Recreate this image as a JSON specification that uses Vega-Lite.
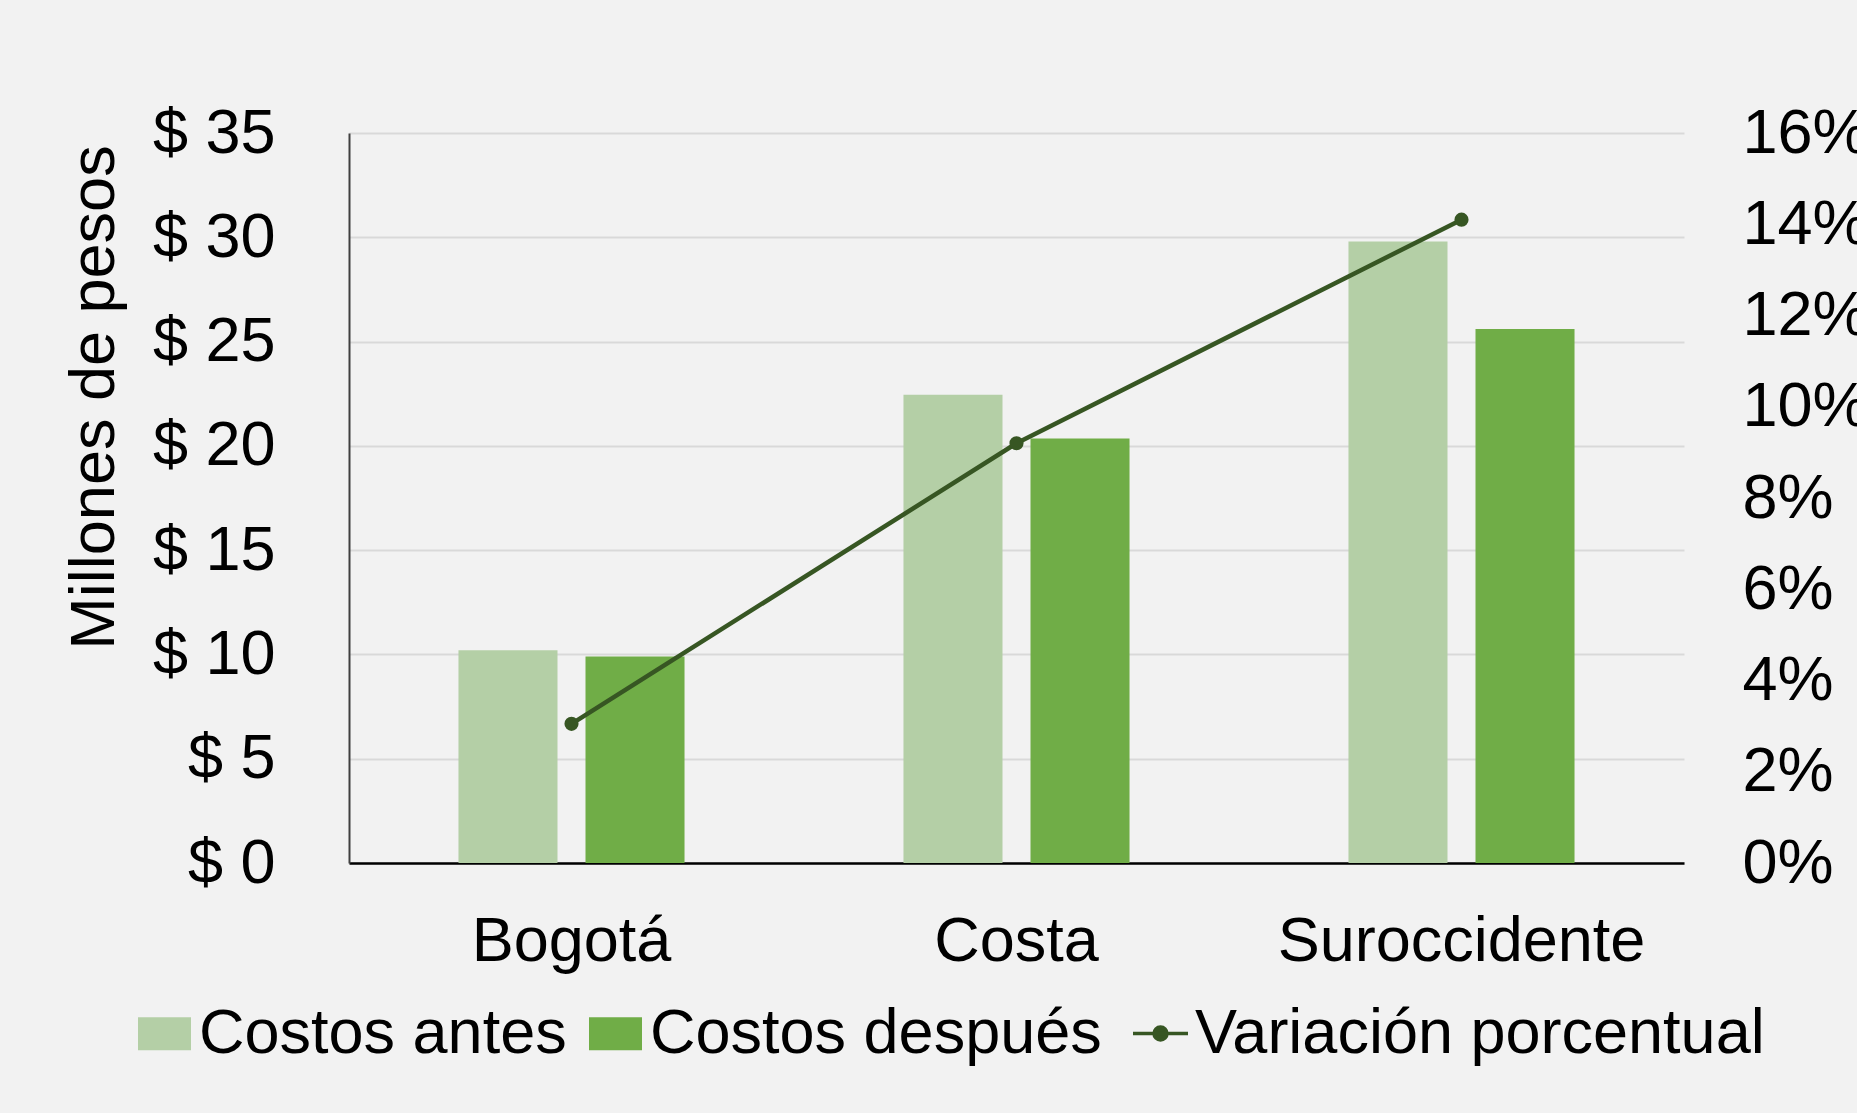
{
  "$schema": "https://vega.github.io/schema/vega-lite/v6.json",
  "width": 1335,
  "height": 730,
  "autosize": {"type": "none"},
  "padding": {"left": 349, "top": 133, "right": 173, "bottom": 250},
  "background": "#f2f2f2",
  "config": {
    "view": {"stroke": null},
    "font": "Liberation Sans",
    "axis": {"labelFont": "Liberation Sans", "labelFontSize": 63, "labelColor": "#000000", "labelLimit": 0, "titleFont": "Liberation Sans", "titleFontSize": 63, "titleFontWeight": "normal", "titleColor": "#000000"},
    "legend": {"labelFont": "Liberation Sans", "labelFontSize": 63, "labelColor": "#000000", "padding": 0, "labelLimit": 0}
  },
  "datasets": {
    "bars": [
      {"region": "Bogotá", "serie": "Costos antes", "valor": 10.2},
      {"region": "Bogotá", "serie": "Costos después", "valor": 9.9},
      {"region": "Costa", "serie": "Costos antes", "valor": 22.45},
      {"region": "Costa", "serie": "Costos después", "valor": 20.35},
      {"region": "Suroccidente", "serie": "Costos antes", "valor": 29.8},
      {"region": "Suroccidente", "serie": "Costos después", "valor": 25.6}
    ],
    "variacion": [
      {"region": "Bogotá", "pct": 0.0305},
      {"region": "Costa", "pct": 0.092},
      {"region": "Suroccidente", "pct": 0.141}
    ]
  },
  "layer": [
    {
      "data": {"name": "bars"},
      "mark": {"type": "bar", "strokeWidth": 0},
      "encoding": {
        "x": {"field": "region", "type": "nominal", "scale": {"domain": ["Bogotá", "Costa", "Suroccidente"], "paddingInner": 0.492, "paddingOuter": 0.246},
          "axis": {"title": null, "labelAngle": 0, "ticks": false, "labelPadding": 47, "domainColor": "#000000", "domainWidth": 2.5}},
        "xOffset": {"field": "serie", "type": "nominal", "scale": {"domain": ["Costos antes", "Costos después"], "paddingInner": 0.2205, "paddingOuter": 0}},
        "y": {"field": "valor", "type": "quantitative", "scale": {"domain": [0, 35]},
          "axis": {"title": "Millones de pesos", "values": [0, 5, 10, 15, 20, 25, 30, 35], "labelExpr": "'$ ' + datum.value", "grid": true, "gridColor": "#d9d9d9", "gridWidth": 2, "domain": true, "domainColor": "#404040", "domainWidth": 2, "ticks": false, "labelPadding": 74, "titleX": -236, "titleY": 264, "titleBaseline": "alphabetic"}},
        "color": {"field": "serie", "type": "nominal", "scale": {"domain": ["Costos antes", "Costos después"], "range": ["#b4cfa6", "#70ad47"]},
          "legend": {"orient": "none", "legendX": -216, "legendY": 869, "direction": "horizontal", "title": null, "symbolType": "M-1,-0.623H1V0.623H-1Z", "symbolSize": 2809, "symbolStrokeWidth": 0, "labelOffset": 3, "columnPadding": 17}}
      }
    },
    {
      "data": {"name": "variacion"},
      "mark": {"type": "line", "strokeWidth": 4.5, "point": {"filled": true, "size": 200}},
      "encoding": {
        "x": {"field": "region", "type": "nominal", "scale": {"domain": ["Bogotá", "Costa", "Suroccidente"], "paddingInner": 0.492, "paddingOuter": 0.246},
          "axis": {"title": null, "labelAngle": 0, "ticks": false, "labelPadding": 47, "domainColor": "#000000", "domainWidth": 2.5}},
        "y": {"field": "pct", "type": "quantitative", "scale": {"domain": [0, 0.16]},
          "axis": {"orient": "right", "title": null, "values": [0, 0.02, 0.04, 0.06, 0.08, 0.1, 0.12, 0.14, 0.16], "format": ".0%", "grid": false, "domain": false, "ticks": false, "labelPadding": 58}},
        "color": {"datum": "Variación porcentual", "scale": {"domain": ["Variación porcentual"], "range": ["#375623"]},
          "legend": {"orient": "none", "legendX": 780, "legendY": 869, "title": null, "symbolType": "M-1,0H1M-0.236,0A0.236,0.236 0 1,1 0.236,0A0.236,0.236 0 1,1 -0.236,0Z", "symbolSize": 3025, "symbolStrokeWidth": 3.5, "symbolFillColor": "#375623", "symbolStrokeColor": "#375623", "labelOffset": 3}}
      }
    }
  ],
  "resolve": {"scale": {"y": "independent", "color": "independent"}}
}
